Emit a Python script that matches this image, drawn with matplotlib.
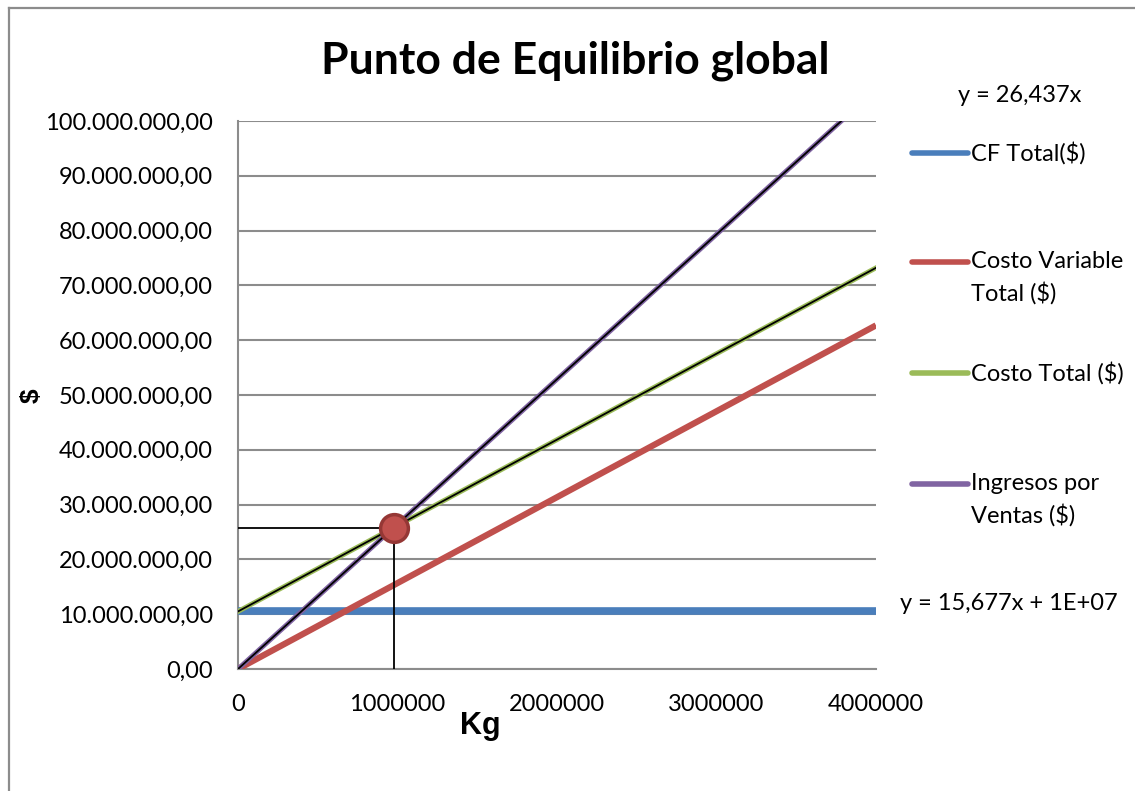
import matplotlib.pyplot as plt
from matplotlib.lines import Line2D
from matplotlib.ticker import FuncFormatter

plt.rcParams["font.family"] = ["Lato", "DejaVu Sans"]

# data
kg = [0, 1000000, 2000000, 3000000, 4000000]
cf_total = [10500000, 10500000, 10500000, 10500000, 10500000]
cv_total = [0, 15677000, 31354000, 47031000, 62708000]
costo_total = [10500000, 26177000, 41854000, 57531000, 73208000]
ingresos = [0, 26437000, 52874000, 79311000, 105748000]
equilibrio_kg = 975800
equilibrio_usd = 25797000

labels = ["CF Total($)", "Costo Variable\nTotal ($)", "Costo Total ($)", "Ingresos por\nVentas ($)"]
colors = ["#4A7EBB", "#C0504D", "#9BBB59", "#8064A2"]

W, H = 1135, 791
fig = plt.figure(figsize=(W / 100, H / 100), dpi=100)
ax = fig.add_axes([238 / W, 1 - 669 / H, (876 - 238) / W, (669 - 121) / H])

# outer chart border (only left and top visible)
fig.add_artist(Line2D([9 / W, 9 / W], [0, 1 - 8 / H], color="#8c8c8c", lw=1.6))
fig.add_artist(Line2D([9 / W, 1], [1 - 8 / H, 1 - 8 / H], color="#8c8c8c", lw=1.6))

ax.plot(kg, cf_total, color=colors[0], lw=5.5, solid_capstyle="butt", zorder=3)
ax.plot(kg, cv_total, color=colors[1], lw=4.5, solid_capstyle="butt", zorder=3)
ax.plot(kg, costo_total, color=colors[2], lw=3.5, zorder=3)
ax.plot(kg, costo_total, color="black", lw=1.3, zorder=4)
ax.plot(kg, ingresos, color=colors[3], lw=3.5, zorder=3)
ax.plot(kg, ingresos, color="black", lw=1.3, zorder=4)

# break-even guides
ax.plot([0, equilibrio_kg], [equilibrio_usd, equilibrio_usd], color="black", lw=1.3, zorder=5)
ax.plot([equilibrio_kg, equilibrio_kg], [0, equilibrio_usd], color="black", lw=1.3, zorder=5)
ax.plot([equilibrio_kg], [equilibrio_usd], marker="o", ms=20, mfc="#C0504D",
        mec="#953735", mew=2.5, zorder=6)

ax.set_xlim(0, 4000000)
ax.set_ylim(0, 100000000)
ax.set_xticks(kg)
ax.set_xticklabels([str(v) for v in kg])
ax.set_yticks(range(0, 100000001, 10000000))
ax.yaxis.set_major_formatter(FuncFormatter(
    lambda v, p: "{:,.2f}".format(v).replace(",", "X").replace(".", ",").replace("X", ".")))
ax.tick_params(length=0, labelsize=17)
ax.tick_params(axis="y", pad=18)
ax.tick_params(axis="x", pad=18)
ax.grid(axis="y", color="#8c8c8c", lw=1.5)
ax.set_axisbelow(True)
for s in ["top", "right"]:
    ax.spines[s].set_visible(False)
for s in ["left", "bottom"]:
    ax.spines[s].set_color("#8c8c8c")
    ax.spines[s].set_linewidth(1.5)

fig.text(575 / W, 1 - 61 / H, "Punto de Equilibrio global", ha="center", va="center",
         fontsize=32, fontweight="bold")
fig.text(480 / W, 1 - 726 / H, "Kg", ha="center", va="center", fontsize=22,
         fontweight="bold", family=["Liberation Sans", "DejaVu Sans"])
fig.text(32 / W, 1 - 396 / H, "$", ha="center", va="center", fontsize=19,
         fontweight="bold", rotation=90, family=["Liberation Sans", "DejaVu Sans"])

# legend
leg_y = [153, 262, 373, 484]
for lab, col, yp in zip(labels, colors, leg_y):
    fig.add_artist(Line2D([912 / W, 968 / W], [1 - yp / H, 1 - yp / H], color=col,
                          lw=4, solid_capstyle="round"))
    fig.text(971 / W, 1 - (yp - 11) / H, lab, ha="left", va="top", fontsize=17,
             linespacing=1.5)

# trendline labels
fig.text(1020 / W, 1 - 95 / H, "y = 26,437x", ha="center", va="center", fontsize=17)
fig.text(900 / W, 1 - 603 / H, "y = 15,677x + 1E+07", ha="left", va="center", fontsize=17)

fig.savefig("out.png", dpi=100)
